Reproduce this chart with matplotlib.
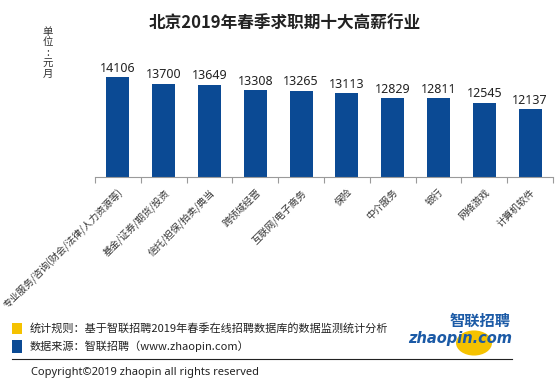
import matplotlib
matplotlib.use("Agg")
import matplotlib.pyplot as plt
import numpy as np
from matplotlib.patches import Rectangle, Circle

plt.rcParams['font.family'] = ['Noto Sans CJK SC', 'DejaVu Sans']

# data
industries = ['专业服务/咨询(财会/法律/人力资源等)', '基金/证券/期货/投资', '信托/担保/拍卖/典当',
              '跨领域经营', '互联网/电子商务', '保险', '中介服务', '银行', '网络游戏', '计算机软件']
salary = [14106, 13700, 13649, 13308, 13265, 13113, 12829, 12811, 12545, 12137]

bar_color = '#0B4A94'
yellow = '#F5C200'

fig = plt.figure(figsize=(5.58, 3.89), dpi=100)
fig.patch.set_facecolor('white')

ax = fig.add_axes([95/558, 1-177.3/389, 458/558, 131.3/389])
x = np.arange(len(industries))
bars = ax.bar(x, salary, width=0.5, color=bar_color)
ax.set_ylim(8000, 16000)
ax.set_xlim(-0.5, len(industries)-0.5)

for s in ['top', 'left', 'right']:
    ax.spines[s].set_visible(False)
ax.spines['bottom'].set_color('#9a9a9a')
ax.spines['bottom'].set_linewidth(0.8)
ax.set_yticks([])

# category ticks between bars, labels centred under bars
ax.set_xticks(x)
ax.set_xticklabels(industries, rotation=45, ha='right', va='top',
                   rotation_mode='anchor', fontsize=7, color='#333333')
ax.tick_params(axis='x', which='major', length=0, pad=7)
ax.set_xticks(np.arange(len(industries)+1)-0.5, minor=True)
ax.tick_params(axis='x', which='minor', length=4, color='#9a9a9a', width=0.8)

for b, v in zip(bars, salary):
    ax.text(b.get_x()+b.get_width()/2, v+150, str(v), ha='center', va='bottom',
            fontsize=9, color='#222222', family=['Noto Sans', 'DejaVu Sans'])

# title and unit
fig.text(285/558, 1-24/389, '北京2019年春季求职期十大高薪行业', ha='center', va='center',
         fontsize=12, fontweight='bold', color='#222222')
for i, ch in enumerate(['单', '位', ':', '元', '月']):
    fig.text(48/558, 1-(32 + i*10.5)/389, ch, ha='center', va='center',
             fontsize=7.5, color='#333333')

# footer
fig.add_artist(Rectangle((12/558, 1-334/389), 10/558, 11/389, transform=fig.transFigure,
                         color=yellow, lw=0))
fig.add_artist(Rectangle((12/558, 1-353/389), 10/558, 13/389, transform=fig.transFigure,
                         color=bar_color, lw=0))
fig.text(30/558, 1-328/389, '统计规则：基于智联招聘2019年春季在线招聘数据库的数据监测统计分析',
         ha='left', va='center', fontsize=8, color='#222222')
fig.text(30/558, 1-346/389, '数据来源：智联招聘（www.zhaopin.com）',
         ha='left', va='center', fontsize=8, color='#222222')
fig.add_artist(plt.Line2D([12/558, 512/558], [1-359/389, 1-359/389], transform=fig.transFigure,
                          color='#222222', lw=0.8))
fig.text(31/558, 1-372/389, 'Copyright©2019 zhaopin all rights reserved',
         ha='left', va='center', fontsize=8, color='#222222',
         family=['Noto Sans', 'DejaVu Sans'])

# logo
fig.add_artist(Circle((474/558, 1-343/389), 18/558, transform=fig.transFigure,
                      color=yellow, lw=0))
fig.text(511/558, 1-321/389, '智联招聘', ha='right', va='center', fontsize=11,
         fontweight='bold', style='italic', color='#1B5AA6')
fig.text(512/558, 1-339/389, 'zhaopin.com', ha='right', va='center', fontsize=10.5,
         fontweight='bold', style='italic', color='#1B5AA6', family=['DejaVu Sans'])

fig.savefig('out.png', dpi=100)
